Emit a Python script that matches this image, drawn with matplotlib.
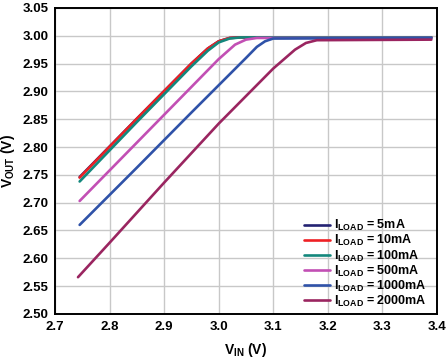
import matplotlib
matplotlib.use('Agg')
import matplotlib.pyplot as plt

plt.rcParams['font.family'] = ['Liberation Sans', 'DejaVu Sans']
plt.rcParams['mathtext.fontset'] = 'custom'
plt.rcParams['mathtext.rm'] = 'Liberation Sans:bold'
plt.rcParams['mathtext.it'] = 'Liberation Sans:bold'
plt.rcParams['mathtext.bf'] = 'Liberation Sans:bold'

# load labels and colours
loads = ['5mA', '10mA', '100mA', '500mA', '1000mA', '2000mA']
colors = ['#232272', '#ee2024', '#13877c', '#c24fb4', '#2f52a8', '#9a2560']

# VIN / VOUT
vin_5 = [2.745, 2.85, 2.95, 2.98, 3.00, 3.02, 3.04, 3.39]
vout_5 = [2.746, 2.851, 2.950, 2.977, 2.990, 2.996, 2.997, 2.997]
vin_10 = [2.745, 2.85, 2.95, 2.98, 3.00, 3.02, 3.04, 3.39]
vout_10 = [2.745, 2.851, 2.950, 2.977, 2.990, 2.996, 2.997, 2.997]
vin_100 = [2.745, 2.85, 2.95, 2.98, 3.00, 3.02, 3.04, 3.39]
vout_100 = [2.738, 2.845, 2.945, 2.973, 2.988, 2.995, 2.997, 2.997]
vin_500 = [2.745, 2.85, 2.95, 3.00, 3.03, 3.05, 3.07, 3.39]
vout_500 = [2.703, 2.808, 2.908, 2.958, 2.984, 2.993, 2.996, 2.996]
vin_1000 = [2.745, 2.85, 2.95, 3.05, 3.07, 3.085, 3.10, 3.39]
vout_1000 = [2.660, 2.763, 2.862, 2.960, 2.980, 2.990, 2.995, 2.996]
vin_2000 = [2.742, 2.80, 2.90, 3.00, 3.10, 3.14, 3.16, 3.18, 3.39]
vout_2000 = [2.566, 2.628, 2.736, 2.842, 2.941, 2.975, 2.987, 2.992, 2.993]

vins = [vin_5, vin_10, vin_100, vin_500, vin_1000, vin_2000]
vouts = [vout_5, vout_10, vout_100, vout_500, vout_1000, vout_2000]

fig = plt.figure(figsize=(4.48, 3.6), dpi=100)
ax = fig.add_axes([0.123, 0.128, 0.852, 0.85])

for i in range(len(loads)):
	ax.plot(vins[i], vouts[i], color=colors[i], linewidth=1.9,
		label=r'I$_{LOAD}$ = ' + loads[i], solid_capstyle='round')

ax.set_xlim(2.7, 3.4)
ax.set_ylim(2.5, 3.05)
ax.set_xticks([2.7, 2.8, 2.9, 3.0, 3.1, 3.2, 3.3, 3.4])
ax.set_yticks([2.50, 2.55, 2.60, 2.65, 2.70, 2.75, 2.80, 2.85, 2.90, 2.95, 3.00, 3.05])
ax.set_xticklabels(['2.7', '2.8', '2.9', '3.0', '3.1', '3.2', '3.3', '3.4'], fontweight='bold')
ax.set_yticklabels(['%.2f' % v for v in ax.get_yticks()], fontweight='bold')
ax.tick_params(length=0, labelsize=9.5, pad=5)
ax.grid(True, color='#c8c8c8', linewidth=1.0)
ax.set_axisbelow(True)
for s in ax.spines.values():
	s.set_linewidth(1.4)
	s.set_color('black')

ax.set_xlabel(r'V$_{IN}$ (V)', fontsize=10, fontweight='bold', labelpad=6)
ax.set_ylabel(r'V$_{OUT}$ (V)', fontsize=10, fontweight='bold', labelpad=4)

leg = ax.legend(loc='lower right', bbox_to_anchor=(0.995, -0.012), frameon=False,
	fontsize=9, handlelength=2.1, labelspacing=0.0, handletextpad=0.3,
	borderaxespad=0.3)
for t in leg.get_texts():
	t.set_fontweight('bold')

fig.savefig('out.png', dpi=100)
